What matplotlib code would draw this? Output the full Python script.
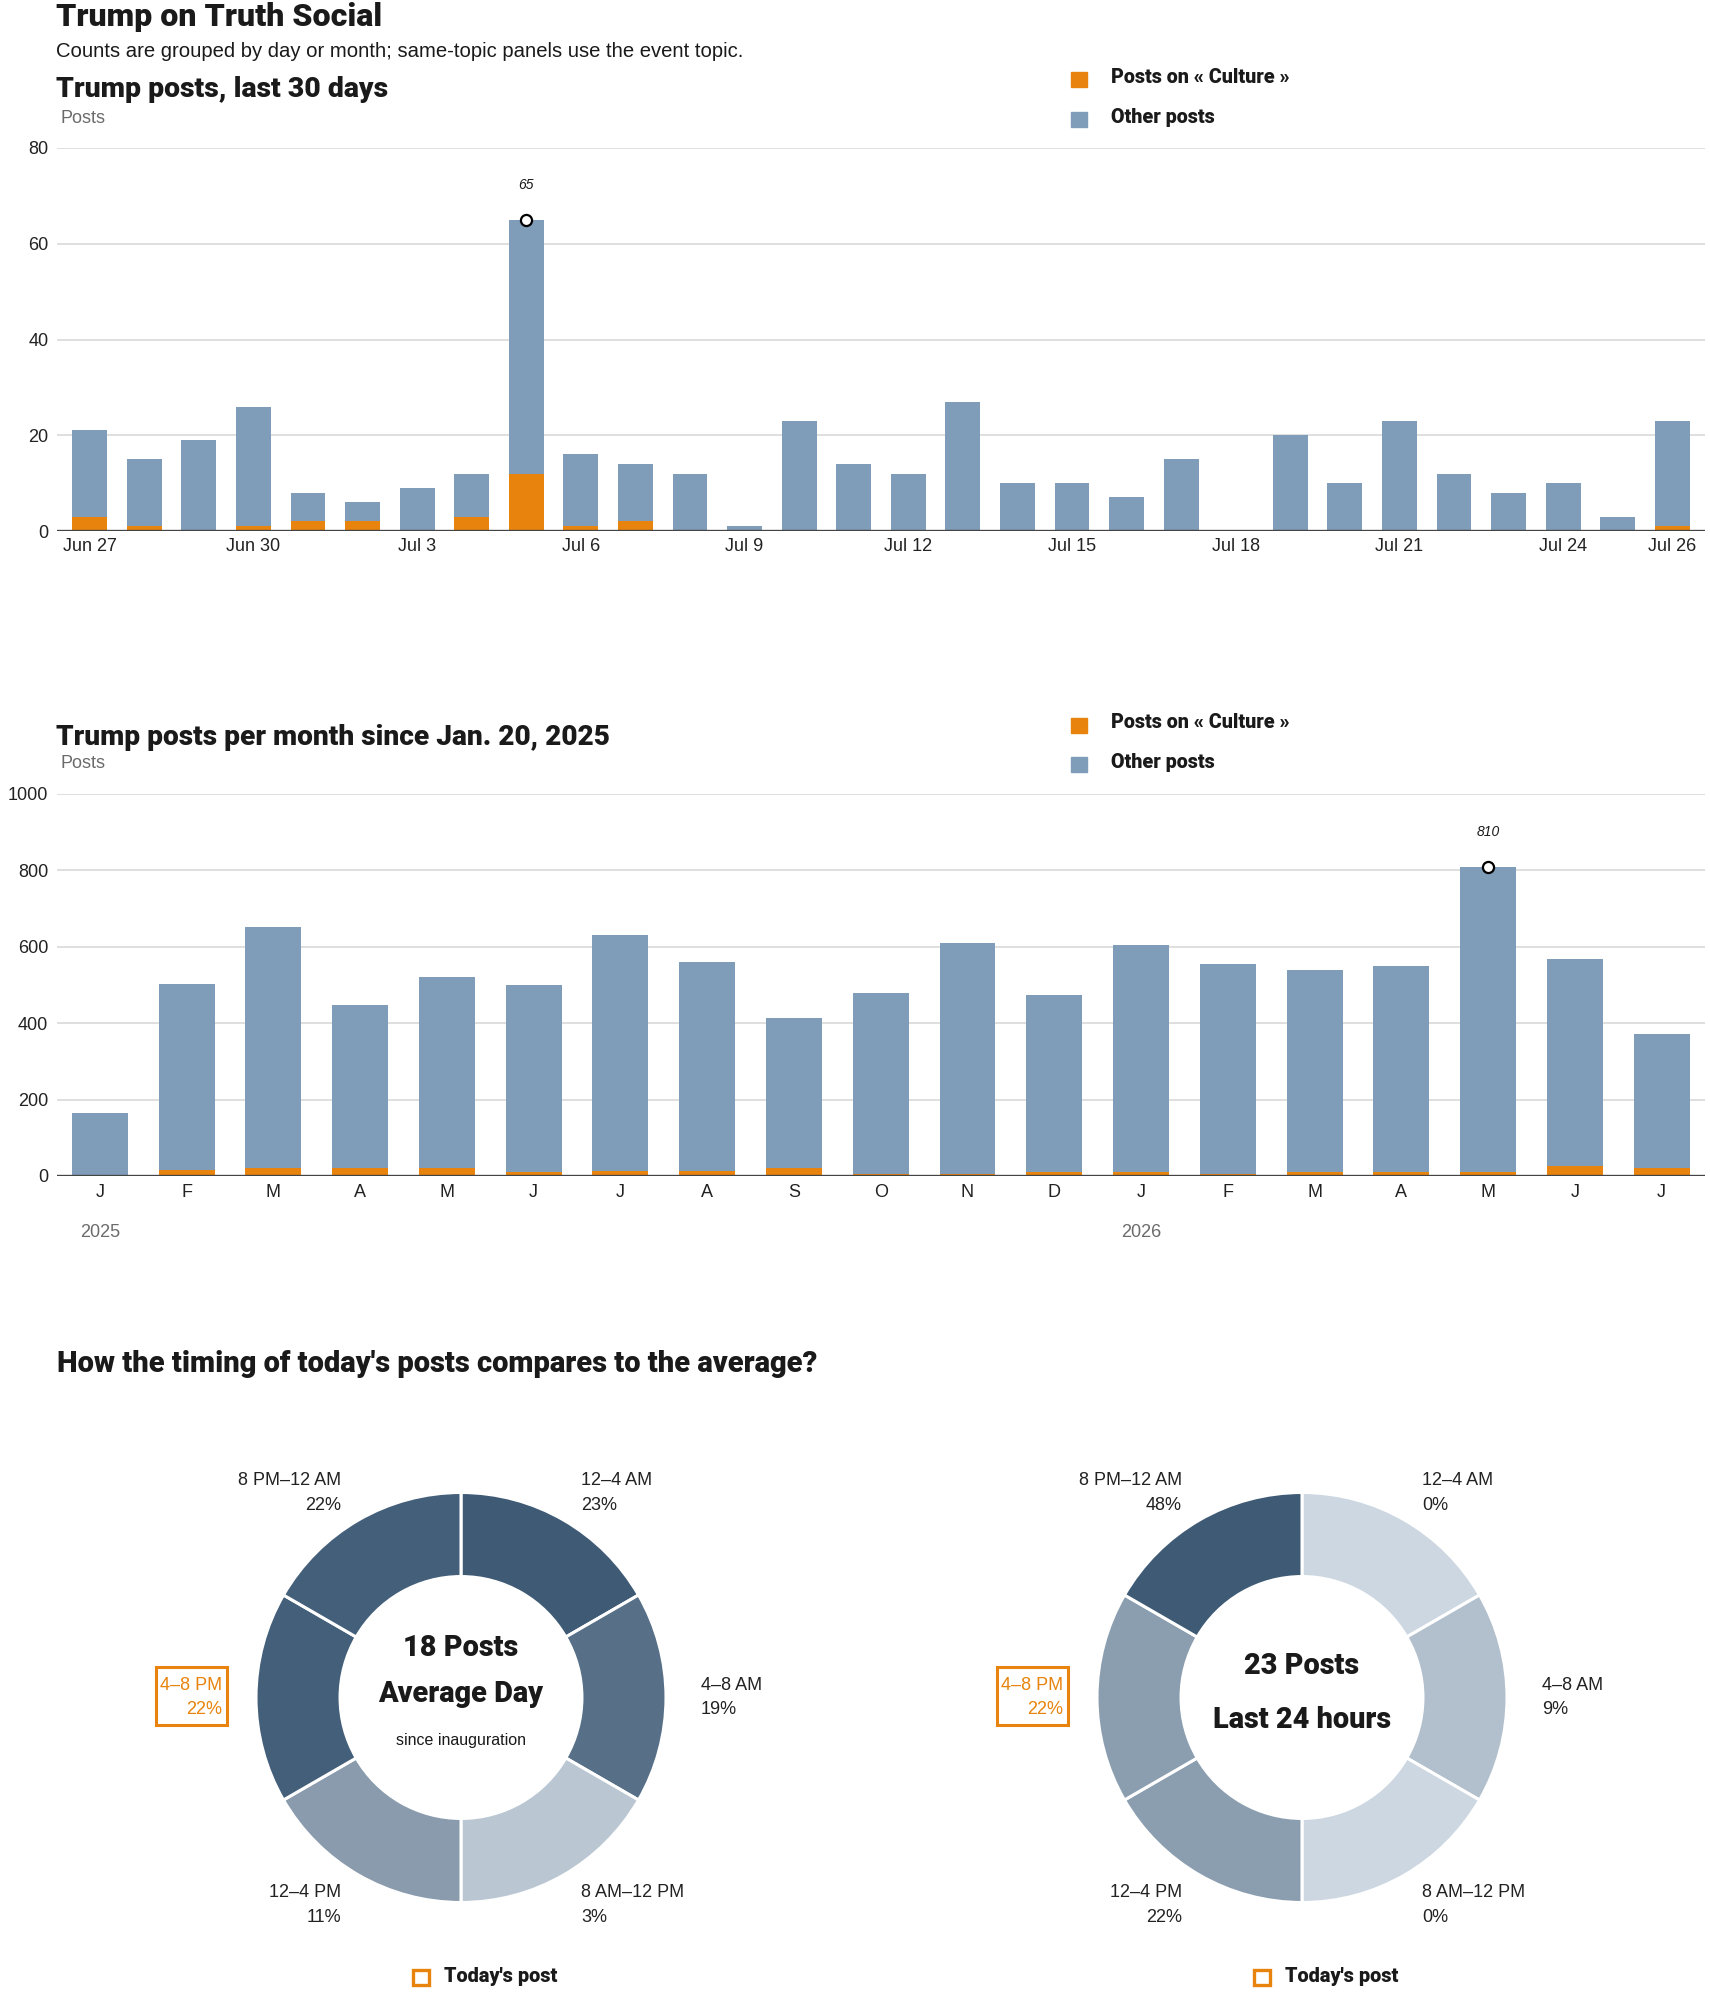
import matplotlib
matplotlib.use('Agg')
import matplotlib.pyplot as plt
import numpy as np
import pandas as pd
from matplotlib.patches import Rectangle

plt.rcParams['font.family'] = ['Liberation Sans', 'DejaVu Sans']

# ---------------- data ----------------
days = pd.date_range('2026-06-27', periods=30, freq='D')
day_total = [21, 15, 19, 26, 8, 6, 9, 12, 65, 16, 14, 12, 1, 23, 14,
             12, 27, 10, 10, 7, 15, 0, 20, 10, 23, 12, 8, 10, 3, 23]
day_culture = [3, 1, 0, 1, 2, 2, 0, 3, 12, 1, 2, 0, 0, 0, 0,
               0, 0, 0, 0, 0, 0, 0, 0, 0, 0, 0, 0, 0, 0, 1]
day_tick_idx = [0, 3, 6, 9, 12, 15, 18, 21, 24, 27, 29]

months = ['J', 'F', 'M', 'A', 'M', 'J', 'J', 'A', 'S', 'O', 'N', 'D',
          'J', 'F', 'M', 'A', 'M', 'J', 'J']
month_total = [165, 503, 653, 447, 520, 499, 630, 561, 413, 478, 611, 473,
               606, 556, 538, 549, 810, 567, 371]
month_culture = [1, 15, 20, 20, 20, 10, 12, 12, 20, 4, 6, 10,
                 10, 6, 10, 10, 10, 25, 22]
year_labels = ['2025', '2026']
year_idx = [0, 12]

slots = ['12–4 AM', '4–8 AM', '8 AM–12 PM', '12–4 PM', '4–8 PM', '8 PM–12 AM']
slot_hours = [4, 4, 4, 4, 4, 4]
avg_share = [23, 19, 3, 11, 22, 22]
today_share = [0, 9, 0, 22, 22, 48]
today_slot = '4–8 PM'
avg_posts = 18
today_posts = 23

# ---------------- style ----------------
ORANGE = '#e8830e'
BLUE = '#7f9cb8'
GRID = '#dcdcdc'
DARK = '#1a1a1a'
GRAY = '#6b6b6b'
LIGHT_RGB = np.array([205, 215, 225]) / 255
DARK_RGB = np.array([62, 90, 117]) / 255
HEAVY = dict(family=['Roboto', 'Liberation Sans', 'DejaVu Sans'], fontweight='black')

W, H = 1710, 1993
fig = plt.figure(figsize=(W / 100, H / 100), dpi=100)


def fx(x):
    return x / W


def fy(y):
    return 1 - y / H


def add_ax(l, t, r, b):
    return fig.add_axes([l / W, 1 - b / H, (r - l) / W, (b - t) / H])


def ftext(x, y, s, **kw):
    kw.setdefault('va', 'baseline')
    kw.setdefault('color', DARK)
    return fig.text(fx(x), fy(y), s, **kw)


def legend_block(b1, b2):
    for bl, col, lab in [(b1, ORANGE, 'Posts on « Culture »'), (b2, BLUE, 'Other posts')]:
        fig.patches.append(Rectangle((fx(1071), fy(bl + 4)), 16 / W, 15 / H,
                                     transform=fig.transFigure, color=col))
        ftext(1111, bl, lab, fontsize=14.2, **HEAVY)


def style_bar_ax(ax):
    for s in ax.spines.values():
        s.set_visible(False)
    ax.grid(axis='y', color=GRID, lw=1.3)
    ax.set_axisbelow(True)
    ax.tick_params(axis='both', length=0, labelsize=13, colors='#222222')
    ax.tick_params(axis='y', pad=6)
    ax.axhline(0, color='#444444', lw=2.4, zorder=5)


# ---------------- titles ----------------
ftext(56, 26.5, 'Trump on Truth Social', fontsize=23.1, **HEAVY)
ftext(56, 57, 'Counts are grouped by day or month; same-topic panels use the event topic.',
      fontsize=14.6)

# ---------------- panel 1: last 30 days ----------------
ftext(56, 97, 'Trump posts, last 30 days', fontsize=20.4, **HEAVY)
ftext(60, 123, 'Posts', fontsize=13, color=GRAY)
legend_block(83.3, 123)

ax1 = add_ax(57, 148, 1705, 531)
x1 = np.arange(len(day_total))
d_cul = np.array(day_culture)
d_oth = np.array(day_total) - d_cul
ax1.bar(x1, d_cul, width=0.64, color=ORANGE, zorder=3)
ax1.bar(x1, d_oth, bottom=d_cul, width=0.64, color=BLUE, zorder=3)
ax1.set_ylim(0, 80)
ax1.set_yticks([0, 20, 40, 60, 80])
ax1.set_xlim(-0.6, 29.6)
ax1.set_xticks(day_tick_idx)
ax1.set_xticklabels([f"{days[i]:%b} {days[i].day}" for i in day_tick_idx])
style_bar_ax(ax1)
ax1.tick_params(axis='x', pad=5)
imax = int(np.argmax(day_total))
ax1.plot(imax, day_total[imax], 'o', mfc='white', mec='black', ms=8, mew=1.6,
         zorder=6, clip_on=False)
ax1.annotate(str(day_total[imax]), xy=(imax, day_total[imax]), xytext=(0, 22),
             textcoords='offset points', ha='center', va='baseline',
             fontsize=10, style='italic', color=DARK)

# ---------------- panel 2: monthly ----------------
ftext(56, 744.6, 'Trump posts per month since Jan. 20, 2025', fontsize=20.2, **HEAVY)
ftext(60, 768, 'Posts', fontsize=13, color=GRAY)
legend_block(728.5, 768)

ax2 = add_ax(56.5, 794, 1705, 1176)
x2 = np.arange(len(month_total))
m_cul = np.array(month_culture)
m_oth = np.array(month_total) - m_cul
ax2.bar(x2, m_cul, width=0.645, color=ORANGE, zorder=3)
ax2.bar(x2, m_oth, bottom=m_cul, width=0.645, color=BLUE, zorder=3)
ax2.set_ylim(0, 1000)
ax2.set_yticks([0, 200, 400, 600, 800, 1000])
ax2.set_xlim(-0.5, 18.5)
ax2.set_xticks(x2)
ax2.set_xticklabels(months)
style_bar_ax(ax2)
ax2.tick_params(axis='x', pad=6)
jmax = int(np.argmax(month_total))
ax2.plot(jmax, month_total[jmax], 'o', mfc='white', mec='black', ms=8, mew=1.6,
         zorder=6, clip_on=False)
ax2.annotate(str(month_total[jmax]), xy=(jmax, month_total[jmax]), xytext=(0, 22),
             textcoords='offset points', ha='center', va='baseline',
             fontsize=10, style='italic', color=DARK)
for lab, idx in zip(year_labels, year_idx):
    ax2.annotate(lab, xy=(idx, 0), xycoords=('data', 'axes fraction'),
                 xytext=(0, -61 * 0.72), textcoords='offset points',
                 ha='center', va='baseline', fontsize=13, color=GRAY)

# ---------------- panel 3: donuts ----------------
ftext(57, 1372, "How the timing of today's posts compares to the average?",
      fontsize=21, **HEAVY)

# label layout: (dx, dy_label, dy_pct, ha)
label_pos = [(120, -212.5, -187.5, 'left'),
             (240, -8, 17, 'left'),
             (120, 199.5, 224, 'left'),
             (-120, 199.5, 224, 'right'),
             (-239, -8, 17, 'right'),
             (-120, -212.5, -187.5, 'right')]


def donut(cx, cy, shares, center_lines):
    r = 205
    ax = add_ax(cx - r, cy - r, cx + r, cy + r)
    mx = max(shares)
    cols = [tuple(LIGHT_RGB + (DARK_RGB - LIGHT_RGB) * (v / mx)) for v in shares]
    ax.pie(slot_hours, radius=1, startangle=90, counterclock=False, colors=cols,
           wedgeprops=dict(width=0.41, edgecolor='white', linewidth=2.2))
    ax.set_xlim(-1, 1)
    ax.set_ylim(-1, 1)
    ax.set_aspect('equal')
    ax.axis('off')
    for (dx, dy1, dy2, ha), name, v in zip(label_pos, slots, shares):
        col = ORANGE if name == today_slot else '#222222'
        ftext(cx + dx, cy + dy1, name, fontsize=13, ha=ha, color=col)
        ftext(cx + dx, cy + dy2, f'{v}%', fontsize=13, ha=ha, color=col)
        if name == today_slot:
            fig.patches.append(Rectangle((fx(cx - 305), fy(cy + 27.5)), 71 / W, 58 / H,
                                         transform=fig.transFigure, fill=False,
                                         edgecolor=ORANGE, lw=2.2))
    for dy, s, sz, wt in center_lines:
        if wt == 'bold':
            ftext(cx, cy + dy, s, fontsize=sz, ha='center', **HEAVY)
        else:
            ftext(cx, cy + dy, s, fontsize=sz, ha='center')
    # legend
    fig.patches.append(Rectangle((fx(cx - 48), fy(cy + 287)), 16 / W, 15 / H,
                                 transform=fig.transFigure, fill=False,
                                 edgecolor=ORANGE, lw=2.4))
    ftext(cx - 17, cy + 285, "Today's post", fontsize=14.3, **HEAVY)


donut(461, 1697.5, avg_share,
      [(-41.5, f'{avg_posts} Posts', 20.8, 'bold'),
       (4.5, 'Average Day', 20.8, 'bold'),
       (47, 'since inauguration', 11.5, 'normal')])
donut(1302, 1697.5, today_share,
      [(-23.5, f'{today_posts} Posts', 20.8, 'bold'),
       (30.5, 'Last 24 hours', 20.8, 'bold')])

fig.savefig('out.png', dpi=100, facecolor='white')
